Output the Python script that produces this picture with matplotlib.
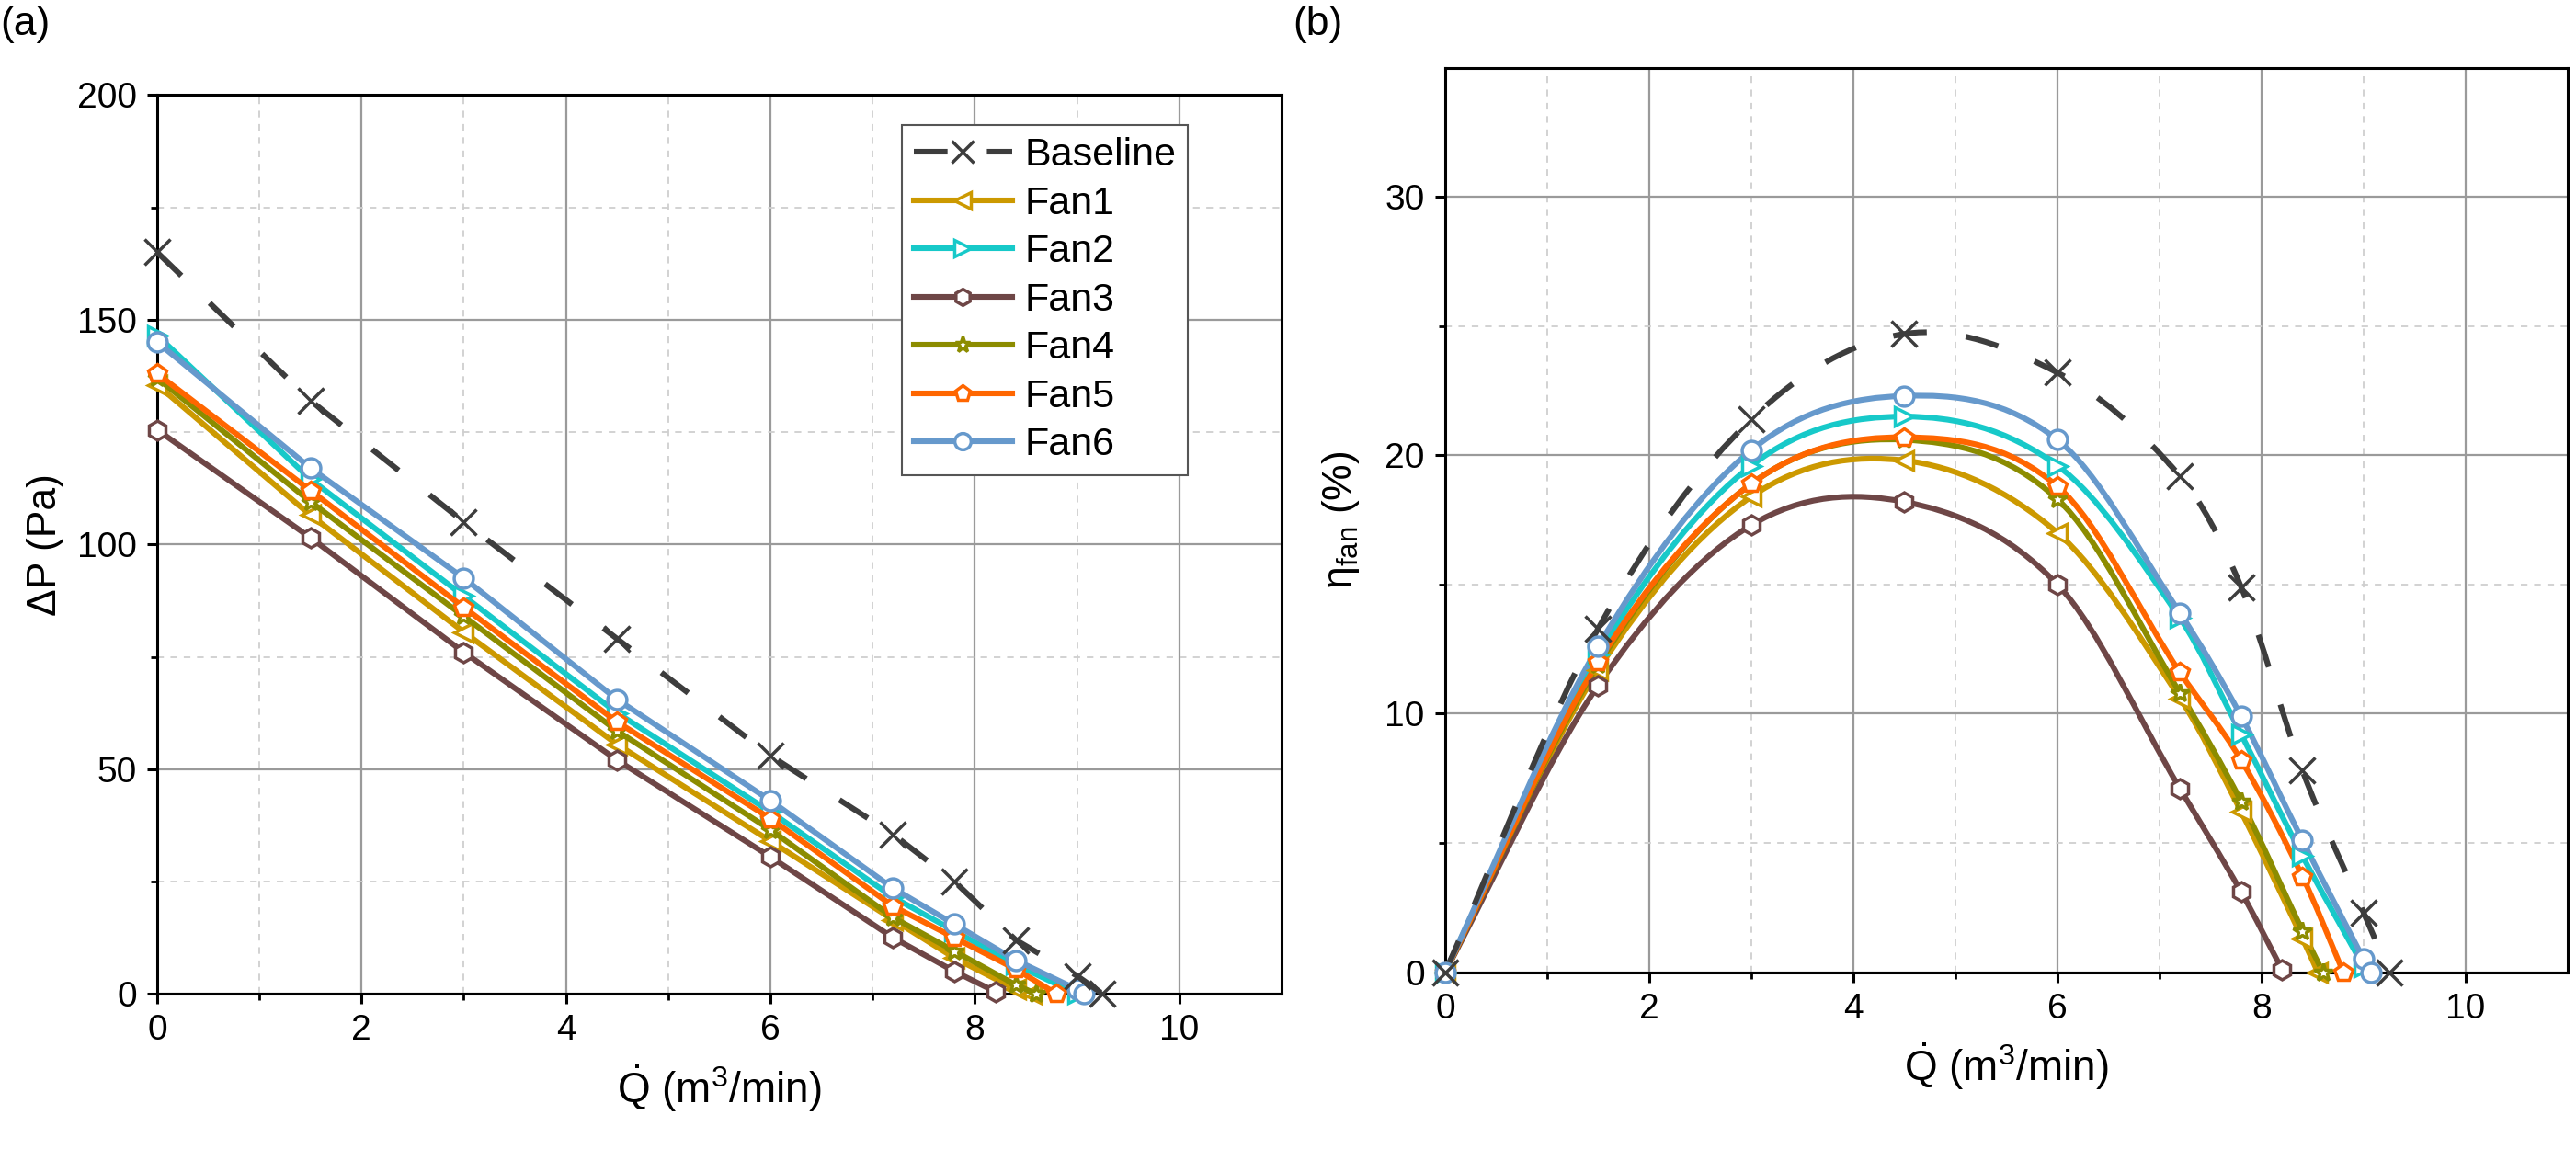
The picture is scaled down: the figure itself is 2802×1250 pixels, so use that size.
#Fan curves: pressure rise and fan efficiency against flow rate, baseline vs six fans.
import numpy as np
import matplotlib
matplotlib.use("Agg")
from matplotlib import pyplot as plt
from matplotlib.path import Path
from matplotlib.patches import PathPatch

plt.rcParams['font.family'] = ['Liberation Sans', 'DejaVu Sans']
plt.rcParams['mathtext.fontset'] = 'custom'
plt.rcParams['mathtext.rm'] = 'Liberation Sans'
plt.rcParams['mathtext.it'] = 'Liberation Sans:italic'

#Series names, styles
names = ["Baseline", "Fan1", "Fan2", "Fan3", "Fan4", "Fan5", "Fan6"]
colors = ["#3d3d3d", "#cc9900", "#17c9c9", "#6e4646", "#8c8c00", "#ff6600", "#6699cc"]
markers = ["x", "<", ">", "h", "*", "p", "o"]

#Flow rate Q (m3/min) of each measured point
q_base = [0, 1.5, 3, 4.5, 6, 7.2, 7.8, 8.4, 9.0, 9.25]
q_fan1 = [0, 1.5, 3, 4.5, 6, 7.2, 7.8, 8.4, 8.55]
q_fan2 = [0, 1.5, 3, 4.5, 6, 7.2, 7.8, 8.4, 9.0]
q_fan3 = [0, 1.5, 3, 4.5, 6, 7.2, 7.8, 8.2]
q_fan4 = [0, 1.5, 3, 4.5, 6, 7.2, 7.8, 8.4, 8.6]
q_fan5 = [0, 1.5, 3, 4.5, 6, 7.2, 7.8, 8.4, 8.8]
q_fan6 = [0, 1.5, 3, 4.5, 6, 7.2, 7.8, 8.4, 9.0, 9.07]

#Pressure rise dP (Pa)
dp_base = [165, 132, 105, 79, 53, 35.5, 25, 12, 4, 0]
dp_fan1 = [135.5, 106.5, 80.5, 55.5, 34, 16.5, 8, 1, 0]
dp_fan2 = [146.5, 114.5, 88.5, 62.5, 40.5, 21.5, 14, 6.5, 0]
dp_fan3 = [125.5, 101.5, 76, 52, 30.5, 12.5, 5, 0.5]
dp_fan4 = [137, 109.5, 84, 58.5, 36.5, 17, 9.5, 2, 0]
dp_fan5 = [138, 112, 86, 60.5, 39, 19.5, 12.5, 5.5, 0]
dp_fan6 = [145, 117, 92.5, 65.5, 43, 23.5, 15.5, 7.5, 1, 0]

#Fan efficiency eta (%)
eta_base = [0, 13.3, 21.4, 24.7, 23.2, 19.2, 14.9, 7.8, 2.3, 0]
eta_fan1 = [0, 11.7, 18.4, 19.8, 17.0, 10.6, 6.2, 1.3, 0]
eta_fan2 = [0, 12.3, 19.6, 21.5, 19.6, 13.7, 9.2, 4.5, 0.2]
eta_fan3 = [0, 11.1, 17.3, 18.2, 15.0, 7.1, 3.1, 0.1]
eta_fan4 = [0, 11.9, 18.9, 20.6, 18.3, 10.8, 6.6, 1.6, 0]
eta_fan5 = [0, 12.0, 18.9, 20.7, 18.8, 11.6, 8.2, 3.7, 0]
eta_fan6 = [0, 12.6, 20.2, 22.3, 20.6, 13.9, 9.9, 5.1, 0.5, 0]

q_all = [q_base, q_fan1, q_fan2, q_fan3, q_fan4, q_fan5, q_fan6]
dp_all = [dp_base, dp_fan1, dp_fan2, dp_fan3, dp_fan4, dp_fan5, dp_fan6]
eta_all = [eta_base, eta_fan1, eta_fan2, eta_fan3, eta_fan4, eta_fan5, eta_fan6]


#Smooth curve through the points drawn as cubic Bezier segments (Hermite tangents)
def smoothPath(x, y):
  x = np.asarray(x, float)
  y = np.asarray(y, float)
  n = len(x)
  m = np.zeros(n)
  for i in range(n):
    if i == 0:
      m[i] = (y[1] - y[0]) / (x[1] - x[0])
    elif i == n - 1:
      m[i] = (y[-1] - y[-2]) / (x[-1] - x[-2])
    else:
      m[i] = (y[i + 1] - y[i - 1]) / (x[i + 1] - x[i - 1])
  verts = [(x[0], y[0])]
  codes = [Path.MOVETO]
  for i in range(n - 1):
    h = x[i + 1] - x[i]
    verts += [(x[i] + h / 3, y[i] + m[i] * h / 3),
              (x[i + 1] - h / 3, y[i + 1] - m[i + 1] * h / 3),
              (x[i + 1], y[i + 1])]
    codes += [Path.CURVE4] * 3
  return Path(verts, codes)


def styleAxes(ax, ymax, ymajor, yminor):
  ax.set_xlim(0, 11)
  ax.set_ylim(0, ymax)
  ax.set_xticks(np.arange(0, 11, 2))
  ax.set_xticks(np.arange(1, 11, 2), minor=True)
  ax.set_yticks(np.arange(0, ymax + 0.1, ymajor))
  ax.set_yticks(np.arange(yminor, ymax, ymajor), minor=True)
  ax.grid(which='major', color='#9a9a9a', linewidth=1.6)
  ax.grid(which='minor', color='#cfcfcf', linewidth=1.3, linestyle=(0, (4, 4)))
  ax.set_axisbelow(True)
  for s in ax.spines.values():
    s.set_linewidth(2.2)
  ax.tick_params(which='major', direction='out', length=8, width=2.2, labelsize=28, pad=8,
                 top=False, right=False)
  ax.tick_params(which='minor', direction='out', length=5, width=2.0, top=False, right=False)
  ax.set_xlabel(r'$\dot{\mathrm{Q}}$ (m$^3$/min)', fontsize=33, labelpad=12)


fig = plt.figure(figsize=(28.02, 12.5), dpi=100)
ax1 = fig.add_axes([0.061, 0.135, 0.4365, 0.7824])
ax2 = fig.add_axes([0.561, 0.154, 0.4358, 0.787])

order = [1, 2, 3, 4, 5, 6, 0]
handles = {}
for i in order:
  if i == 0:
    ls = (0, (6, 7))
    mfc = colors[i]
    msize = 20
  else:
    ls = '-'
    mfc = 'white'
    msize = 15
  line, = ax1.plot(q_all[i], dp_all[i], color=colors[i], linestyle=ls, linewidth=4.4,
                   marker=markers[i], markersize=msize, markerfacecolor=mfc,
                   markeredgecolor=colors[i], markeredgewidth=2.5, label=names[i],
                   clip_on=False, zorder=3)
  handles[i] = line

  patch = PathPatch(smoothPath(q_all[i], eta_all[i]), facecolor='none', edgecolor=colors[i],
                    linewidth=4.4, linestyle=ls, zorder=3)
  ax2.add_patch(patch)
  ax2.plot(q_all[i], eta_all[i], linestyle='none', marker=markers[i], markersize=msize,
           markerfacecolor=mfc, markeredgecolor=colors[i], markeredgewidth=2.5,
           clip_on=False, zorder=4)

styleAxes(ax1, 200, 50, 25)
styleAxes(ax2, 35, 10, 5)
ax1.set_ylabel('ΔP (Pa)', fontsize=32, labelpad=10)
ax2.set_ylabel(r'η$_{\mathrm{fan}}$ (%)', fontsize=32, labelpad=18)

leg = ax1.legend([handles[i] for i in range(7)], names, loc='upper left',
                 bbox_to_anchor=(0.655, 0.975), fontsize=31, handlelength=2.5,
                 handletextpad=0.3, labelspacing=0.29, borderpad=0.3, borderaxespad=0.2,
                 fancybox=False, framealpha=1, edgecolor='#555555', markerscale=0.85)
leg.get_frame().set_linewidth(1.5)

fig.text(0.0, 0.995, '(a)', fontsize=32, ha='left', va='top')
fig.text(0.502, 0.995, '(b)', fontsize=32, ha='left', va='top')

fig.savefig('out.png', dpi=100)
